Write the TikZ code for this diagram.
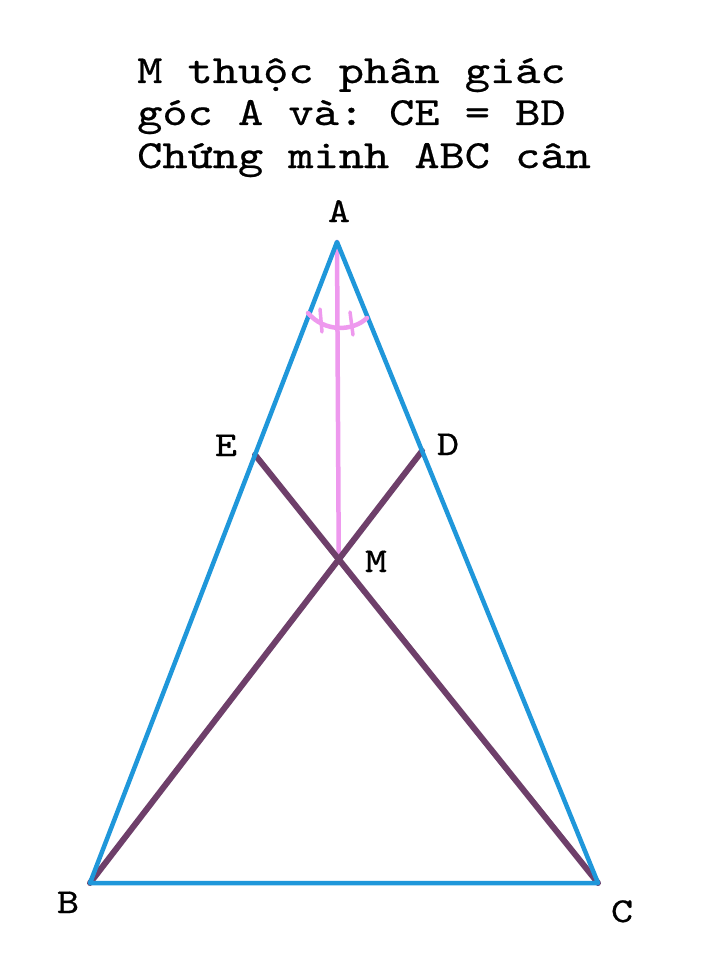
\documentclass[tikz,border=0pt]{standalone}
\usepackage{fontspec}
\newfontfamily\monowide[FakeStretch=1.2,FakeBold=0.6]{lmmono10-regular.otf}
\usetikzlibrary{calc}
\definecolor{triblue}{HTML}{1F97DA}
\definecolor{cevpurple}{HTML}{6E3F6A}
\definecolor{bispink}{HTML}{EE99EE}
\frenchspacing
\tikzset{
  titletext/.style={anchor=base west, inner sep=0pt, font=\monowide\fontsize{40}{42}\selectfont},
  ptlabel/.style={anchor=base, inner sep=0pt, font=\monowide\fontsize{35}{37}\selectfont},
  side/.style={draw=triblue, line width=4.5pt, line cap=round, line join=round},
  cevian/.style={draw=cevpurple, line width=6pt, line cap=round},
  bisector/.style={draw=bispink, line width=4.5pt, line cap=round},
}
\begin{document}
\begin{tikzpicture}[x=1pt,y=-1pt]
\useasboundingbox (0,0) rectangle (721,960);
\fill[white] (0,0) rectangle (721,960);
% title
\node[titletext] (t1) at (137,83) {M thuộc phân giác};
\node[titletext] (t2) at (137,125) {góc A và: CE = BD};
\node[titletext] (t3) at (137,168) {Chứng minh ABC cân};
% points
\coordinate (A) at (337,242);
\coordinate (B) at (90,883);
\coordinate (C) at (598,883);
\coordinate (E) at ($(A)!0.332!(B)$);
\coordinate (D) at ($(A)!0.326!(C)$);
\coordinate (M) at (intersection of E--C and D--B);
% bisector
\draw[bisector] (A) -- (M);
% cevians
\draw[cevian] (E) -- (C);
\draw[cevian] (D) -- (B);
% triangle
\draw[side] (A) -- (B) -- (C) -- cycle;
% angle marks
\coordinate (arcL) at (308,313);
\coordinate (arcR) at (367,318);
\draw[bisector, line width=4.5pt] (arcL) .. controls (324,332) and (352,332) .. (arcR);
\coordinate (tickLa) at (320,309);
\coordinate (tickLb) at (322,332);
\coordinate (tickRa) at (350,312);
\coordinate (tickRb) at (353,335);
\draw[bisector, line width=3.5pt] (tickLa) -- (tickLb);
\draw[bisector, line width=3.5pt] (tickRa) -- (tickRb);
% labels
\node[ptlabel] (lA) at (339,222) {A};
\node[ptlabel] (lE) at (226,456) {E};
\node[ptlabel] (lD) at (448,455) {D};
\node[ptlabel] (lM) at (376,572) {M};
\node[ptlabel] (lB) at (68,913) {B};
\node[ptlabel] (lC) at (622,922) {C};
\end{tikzpicture}
\end{document}
